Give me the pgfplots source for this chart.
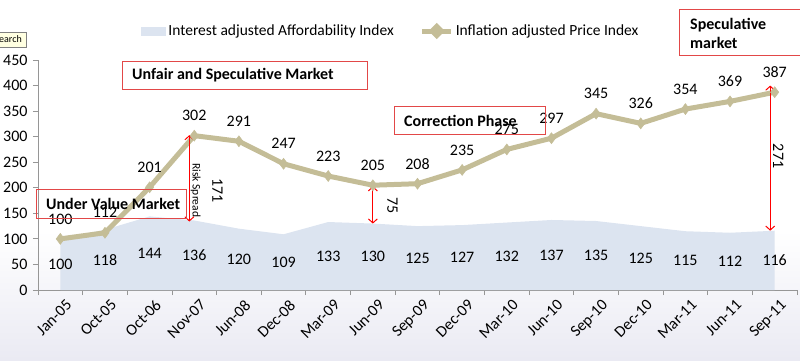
\documentclass[border=0pt]{standalone}
\usepackage{fontspec}
\setmainfont{Carlito}
\usepackage{pgfplots}
\pgfplotsset{compat=1.18}
\usepackage{pgfplotstable}
\usetikzlibrary{arrows.meta}
\definecolor{areac}{RGB}{220,228,240}
\definecolor{linec}{RGB}{196,189,151}
\definecolor{boxred}{RGB}{226,72,72}
\definecolor{axgray}{RGB}{150,150,150}
\definecolor{bggray}{RGB}{234,234,243}
\definecolor{tipfill}{RGB}{255,255,225}

\pgfplotstableread{
x a p
0 100 100
1 118 112
2 144 201
3 136 302
4 120 291
5 109 247
6 133 223
7 130 205
8 125 208
9 127 235
10 132 275
11 137 297
12 135 345
13 125 326
14 115 354
15 112 369
16 116 387
}\datatab

\begin{document}
\begin{tikzpicture}[font=\fontsize{16}{18}\selectfont]
\shade[top color=white, bottom color=bggray] (-38pt,60pt) rectangle (762pt,-70pt);
\begin{axis}[
  at={(0pt,0pt)}, anchor=south west,
  scale only axis, width=759pt, height=230pt,
  xmin=-0.5, xmax=16.5, ymin=0, ymax=450,
  clip=false,
  axis x line*=bottom, axis y line*=left,
  axis line style={axgray, line width=0.8pt},
  xtick={0,...,16},
  xticklabels={Jan-05,Oct-05,Oct-06,Nov-07,Jun-08,Dec-08,Mar-09,Jun-09,Sep-09,Dec-09,Mar-10,Jun-10,Sep-10,Dec-10,Mar-11,Jun-11,Sep-11},
  minor xtick={-0.5,0.5,...,16.5},
  major x tick style={draw=none},
  minor x tick style={axgray, line width=0.8pt},
  ytick={0,50,...,450},
  y tick style={axgray, line width=0.8pt},
  tick align=outside, major tick length=5pt, minor tick length=5pt,
  xticklabel style={rotate=45, anchor=north east, inner sep=1pt, yshift=-5pt, xshift=2pt, font=\fontsize{16}{18}\selectfont},
  yticklabel style={xshift=-2pt, font=\fontsize{16}{18}\selectfont},
  /pgf/number format/assume math mode=true,
  legend style={at={(0.465,1.126)}, anchor=center, draw=none, fill=none,
    font=\fontsize{15.5}{18}\selectfont, inner sep=0pt},
  legend columns=2,
  legend cell align=left,
  /tikz/every even column/.append style={column sep=24pt},
]
\addplot[fill=areac, draw=none,
  legend image code/.code={\fill[areac] (0pt,-4.5pt) rectangle (25pt,4.5pt);}]
  table[x=x,y=a]{\datatab} \closedcycle;
\addlegendentry{Interest adjusted Affordability Index}

\addplot[linec, line width=5pt, mark=diamond*, mark size=5.5pt,
  mark options={solid, line width=0.5pt, fill=linec},
  nodes near coords, point meta=y,
  every node near coord/.append style={black, anchor=center, yshift=20pt, font=\fontsize{16}{18}\selectfont},
  legend image code/.code={\draw[linec, line width=5pt] (0pt,0pt) -- (29pt,0pt);
     \fill[linec] (10pt,0pt) -- (14.5pt,4.5pt) -- (19pt,0pt) -- (14.5pt,-4.5pt) -- cycle;}]
  table[x=x,y=p]{\datatab};
\addlegendentry{Inflation adjusted Price Index}

\addplot[draw=none, mark=none, forget plot,
  nodes near coords, point meta=explicit,
  every node near coord/.append style={black, anchor=center, font=\fontsize{16}{18}\selectfont}]
  table[x=x, y expr=\thisrow{a}/2, meta=a]{\datatab};

% spread arrows
\draw[red, line width=1pt, {Straight Barb[length=4pt,width=9pt]}-{Straight Barb[length=4pt,width=9pt]}]
  (axis cs:2.89,303) -- (axis cs:2.89,134);
\node[rotate=-90, font=\fontsize{11.5}{12}\selectfont] at (axis cs:3.03,195) {Risk Spread};
\node[rotate=-90] at (axis cs:3.52,195) {171};

\draw[red, line width=1pt, {Straight Barb[length=4pt,width=9pt]}-{Straight Barb[length=4pt,width=9pt]}]
  (axis cs:7,203) -- (axis cs:7,130);
\node[rotate=-90] at (axis cs:7.44,166) {75};

\draw[red, line width=1pt, {Straight Barb[length=4pt,width=9pt]}-{Straight Barb[length=4pt,width=9pt]}]
  (axis cs:15.9,400) -- (axis cs:15.9,116);
\node[rotate=-90] at (axis cs:16.08,262) {271};
\end{axis}

% annotation boxes
\draw[boxred, line width=0.8pt] (84pt,229pt) rectangle (329pt,201pt);
\node[anchor=west, inner sep=0pt, font=\fontsize{16}{18}\selectfont\bfseries] at (94pt,215pt) {Unfair and Speculative Market};

\draw[boxred, line width=0.8pt] (-2pt,101pt) rectangle (148pt,72pt);
\node[anchor=west, inner sep=0pt, font=\fontsize{16}{18}\selectfont\bfseries] at (8pt,86pt) {Under Value Market};

\draw[boxred, line width=0.8pt] (356pt,184pt) rectangle (507pt,156pt);
\node[anchor=west, inner sep=0pt, font=\fontsize{16}{18}\selectfont\bfseries] at (366pt,169pt) {Correction Phase};

\draw[boxred, line width=0.8pt] (641pt,281pt) rectangle (820pt,235pt);
\node[anchor=west, inner sep=0pt, font=\fontsize{16}{18}\selectfont\bfseries] at (652pt,265pt) {Speculative};
\node[anchor=west, inner sep=0pt, font=\fontsize{16}{18}\selectfont\bfseries] at (652pt,247pt) {market};

% tooltip fragment
\draw[gray, fill=tipfill] (-45pt,258pt) rectangle (-12pt,243pt);
\node[anchor=east, inner sep=0pt, font=\fontsize{10}{12}\selectfont] at (-16pt,250.5pt) {earch};

\pgfresetboundingbox
\path[use as bounding box] (-38pt,-70pt) rectangle (762pt,290pt);
\end{tikzpicture}
\end{document}
